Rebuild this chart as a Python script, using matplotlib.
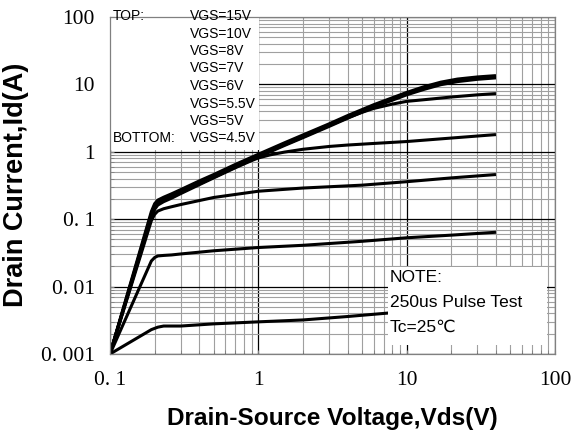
import matplotlib
matplotlib.use('Agg')
import matplotlib.pyplot as plt
from matplotlib.patches import Rectangle
from matplotlib.ticker import FixedLocator, LogLocator, NullFormatter

# output curves (Vds in V, Id in A)
vds_15 = [0.1, 0.19, 0.2, 0.21, 0.23, 0.26, 0.3, 0.4, 0.5, 0.7, 1, 1.5, 2, 3, 4, 6, 10, 13, 17, 22, 30, 40]
id_15 = [0.001, 0.13, 0.17, 0.192, 0.212, 0.238, 0.275, 0.37, 0.46, 0.65, 0.92, 1.36, 1.78, 2.6, 3.45, 5.0, 7.6, 9.2, 10.8, 12.0, 12.9, 13.5]
vds_10 = [0.1, 0.19, 0.2, 0.21, 0.23, 0.26, 0.3, 0.4, 0.5, 0.7, 1, 1.5, 2, 3, 4, 6, 10, 13, 17, 22, 30, 40]
id_10 = [0.001, 0.12, 0.16, 0.182, 0.202, 0.226, 0.262, 0.35, 0.44, 0.62, 0.88, 1.3, 1.7, 2.5, 3.3, 4.8, 7.3, 8.8, 10.3, 11.5, 12.4, 13.0]
vds_8 = [0.1, 0.19, 0.2, 0.21, 0.23, 0.26, 0.3, 0.4, 0.5, 0.7, 1, 1.5, 2, 3, 4, 6, 10, 13, 17, 22, 30, 40]
id_8 = [0.001, 0.112, 0.15, 0.173, 0.192, 0.215, 0.25, 0.335, 0.42, 0.59, 0.84, 1.24, 1.62, 2.38, 3.15, 4.6, 7.0, 8.4, 9.9, 11.0, 11.9, 12.5]
vds_7 = [0.1, 0.19, 0.2, 0.21, 0.23, 0.26, 0.3, 0.4, 0.5, 0.7, 1, 1.5, 2, 3, 4, 5, 6, 8, 10, 15, 20, 30, 40]
id_7 = [0.001, 0.11, 0.148, 0.17, 0.19, 0.213, 0.248, 0.335, 0.42, 0.6, 0.86, 1.27, 1.66, 2.45, 3.2, 3.85, 4.4, 5.1, 5.6, 6.1, 6.5, 7.0, 7.3]
vds_6 = [0.1, 0.19, 0.2, 0.21, 0.23, 0.26, 0.3, 0.4, 0.5, 0.7, 0.9, 1, 1.2, 1.5, 2, 3, 4, 6, 10, 20, 40]
id_6 = [0.001, 0.105, 0.14, 0.162, 0.182, 0.205, 0.24, 0.325, 0.41, 0.58, 0.74, 0.81, 0.9, 0.99, 1.09, 1.2, 1.26, 1.33, 1.42, 1.6, 1.8]
vds_55 = [0.1, 0.19, 0.2, 0.21, 0.23, 0.26, 0.3, 0.5, 1, 2, 5, 10, 20, 40]
id_55 = [0.001, 0.095, 0.118, 0.132, 0.143, 0.153, 0.165, 0.21, 0.26, 0.29, 0.32, 0.36, 0.41, 0.46]
vds_5 = [0.1, 0.19, 0.2, 0.21, 0.23, 0.26, 0.3, 0.5, 1, 2, 5, 10, 20, 40]
id_5 = [0.001, 0.024, 0.027, 0.0285, 0.029, 0.0295, 0.0305, 0.034, 0.038, 0.041, 0.047, 0.053, 0.058, 0.064]
vds_45 = [0.1, 0.19, 0.2, 0.21, 0.23, 0.26, 0.3, 0.5, 1, 2, 4, 8, 20, 40]
id_45 = [0.001, 0.0023, 0.0024, 0.0025, 0.0026, 0.0026, 0.0026, 0.0028, 0.003, 0.0032, 0.0036, 0.0041, 0.0045, 0.0048]

vgs_labels = ['VGS=15V', 'VGS=10V', 'VGS=8V', 'VGS=7V', 'VGS=6V',
              'VGS=5.5V', 'VGS=5V', 'VGS=4.5V']
note_lines = ['NOTE:', '250us Pulse Test', 'Tc=25℃']

x_ticks = [0.1, 1, 10, 100]
x_ticklabels = ['0. 1', '1', '10', '100']
y_ticks = [0.001, 0.01, 0.1, 1, 10, 100]
y_ticklabels = ['0. 001', '0. 01', '0. 1', '1', '10', '100']

fig = plt.figure(figsize=(5.74, 4.36), dpi=100)
ax = fig.add_axes([110 / 574, 82 / 436, 445 / 574, 337 / 436])
ax.set_xscale('log')
ax.set_yscale('log')
ax.set_xlim(0.1, 100)
ax.set_ylim(0.001, 100)

ax.xaxis.set_major_locator(FixedLocator(x_ticks))
ax.set_xticklabels(x_ticklabels)
ax.yaxis.set_major_locator(FixedLocator(y_ticks))
ax.set_yticklabels(y_ticklabels)
for axis in (ax.xaxis, ax.yaxis):
    axis.set_minor_locator(LogLocator(base=10, subs=range(2, 10), numticks=20))
    axis.set_minor_formatter(NullFormatter())

ax.set_axisbelow(True)
ax.grid(True, which='minor', color='#a0a0a0', linewidth=0.8)
ax.grid(True, which='major', color='black', linewidth=0.9)
for s in ax.spines.values():
    s.set_color('#808080')
    s.set_linewidth(0.9)
ax.tick_params(which='both', direction='in', length=3, color='#808080',
               top=False, right=False)
ax.tick_params(axis='x', pad=12, labelsize=15.5)
ax.tick_params(axis='y', pad=11, labelsize=15.5)
for lab in ax.get_xticklabels() + ax.get_yticklabels():
    lab.set_fontfamily('Liberation Serif')

# white panel behind the VGS list
ax.add_patch(Rectangle((0, 0.606), 0.334, 0.394, transform=ax.transAxes,
                       facecolor='white', edgecolor='none', zorder=1))

curves = [(vds_15, id_15), (vds_10, id_10), (vds_8, id_8), (vds_7, id_7),
          (vds_6, id_6), (vds_55, id_55), (vds_5, id_5), (vds_45, id_45)]
for xs, ys in curves:
    ax.plot(xs, ys, color='black', linewidth=2.2, solid_joinstyle='round',
            solid_capstyle='butt', zorder=2)

# note box covering the lower right
ax.add_patch(Rectangle((0.625, 0.027), 0.357, 0.231, transform=ax.transAxes,
                       facecolor='white', edgecolor='none', zorder=3))

lf = dict(family=['Liberation Sans', 'DejaVu Sans'], fontsize=10,
          va='center', transform=ax.transAxes, zorder=4)
step = 17.5 / 337
y0 = (354 - 16) / 337
ax.text(0.007, y0, 'TOP:', ha='left', **lf)
ax.text(0.007, y0 - 7 * step, 'BOTTOM:', ha='left', **lf)
for i, t in enumerate(vgs_labels):
    ax.text(0.18, y0 - i * step, t, ha='left', **lf)

nf = dict(family=['Liberation Sans', 'DejaVu Sans'], fontsize=12.5,
          va='center', ha='left', transform=ax.transAxes, zorder=4)
for i, t in enumerate(note_lines):
    ax.text(0.629, (354 - 278 - i * 24.6) / 337, t, **nf)

fig.text(332 / 574, 1 - 418 / 436, 'Drain-Source Voltage,Vds(V)',
         family='Liberation Sans', fontweight='bold', fontsize=17.6,
         ha='center', va='center')
fig.text(16 / 574, 1 - 185 / 436, 'Drain Current,Id(A)',
         family='Liberation Sans', fontweight='bold', fontsize=19.5,
         ha='center', va='center', rotation=90)

fig.savefig('out.png', dpi=100)
